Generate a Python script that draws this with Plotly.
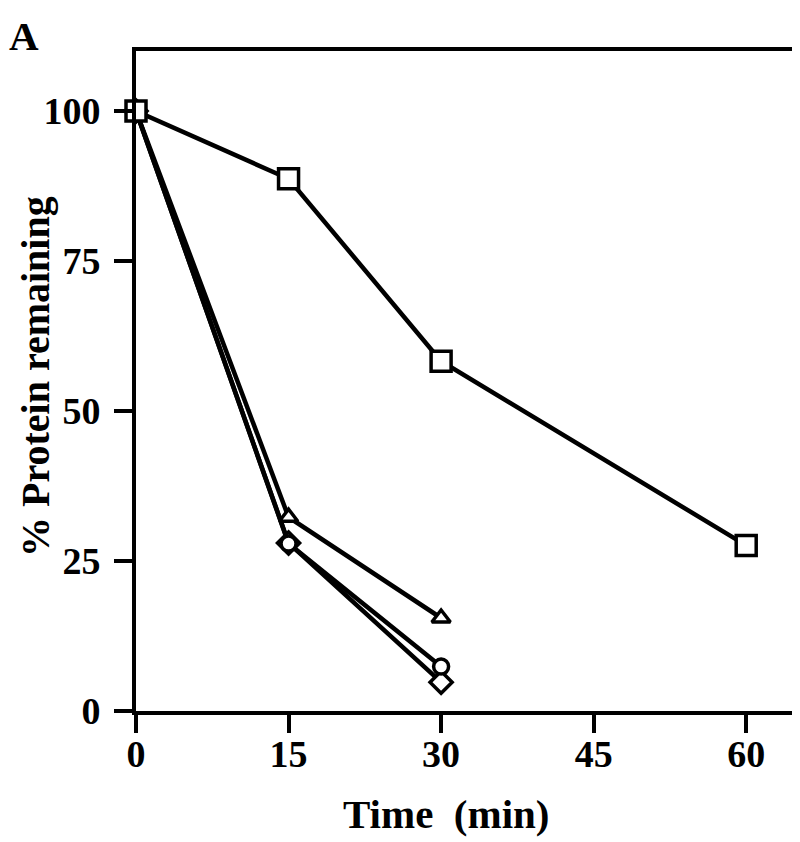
import plotly.graph_objects as go

time_square = [0, 15, 30, 60]
pct_square = [100, 88.7, 58.3, 27.6]
time_tri = [0, 15, 30]
pct_tri = [100, 32.3, 15.5]
time_circ = [0, 15, 30]
pct_circ = [100, 27.9, 7.4]
time_diam = [0, 15, 30]
pct_diam = [100, 28.0, 4.8]

x_ticks = [0, 15, 30, 45, 60]
y_ticks = [0, 25, 50, 75, 100]

FONT = "Liberation Serif"
L, R, T, B = 128, 14, 43, 139
W, H = 800, 842
PW, PH = W - L - R, H - T - B

fig = go.Figure()

def add(x, y, symbol, size):
    fig.add_trace(go.Scatter(
        x=x, y=y, mode="lines+markers",
        line=dict(color="black", width=4.5),
        marker=dict(symbol=symbol, size=size, color="white",
                    line=dict(color="black", width=3.5)),
        showlegend=False, cliponaxis=False,
    ))

add(time_diam, pct_diam, "diamond", 17)
add(time_circ, pct_circ, "circle", 15)
add(time_tri, pct_tri, "triangle-up", 16)
add(time_square, pct_square, "square", 20)

axis_common = dict(
    showline=True, linecolor="black", linewidth=4, mirror=True,
    ticks="outside", ticklen=18, tickwidth=4, tickcolor="black",
    showgrid=False, zeroline=False, automargin=False,
    tickfont=dict(family=FONT, size=38, color="black", weight="bold"),
)

fig.update_xaxes(range=[0, 64.7], tickvals=x_ticks,
                 ticktext=[str(v) for v in x_ticks], ticklabelstandoff=-12,
                 **axis_common)
fig.update_yaxes(range=[0, 110], tickvals=y_ticks,
                 ticktext=[str(v) for v in y_ticks], ticklabelstandoff=6,
                 **axis_common)

def px_x(px):
    return (px - L) / PW

def px_y(py):
    return (H - B - py) / PH

fig.add_annotation(text="Time  (min)", xref="paper", yref="paper",
                   x=px_x(438), y=px_y(806), xanchor="center", yanchor="middle",
                   showarrow=False,
                   font=dict(family=FONT, size=41, color="black", weight="bold"))
fig.add_annotation(text="% Protein remaining", xref="paper", yref="paper",
                   x=px_x(27), y=px_y(369), xanchor="center", yanchor="middle",
                   textangle=-90, showarrow=False,
                   font=dict(family=FONT, size=40, color="black", weight="bold"))
fig.add_annotation(text="A", xref="paper", yref="paper",
                   x=px_x(16), y=px_y(28), xanchor="center", yanchor="middle",
                   showarrow=False,
                   font=dict(family=FONT, size=41, color="black", weight="bold"))

fig.update_layout(
    width=W, height=H,
    margin=dict(l=L, r=R, t=T, b=B),
    plot_bgcolor="white", paper_bgcolor="white",
)

fig.write_html("out.html")
